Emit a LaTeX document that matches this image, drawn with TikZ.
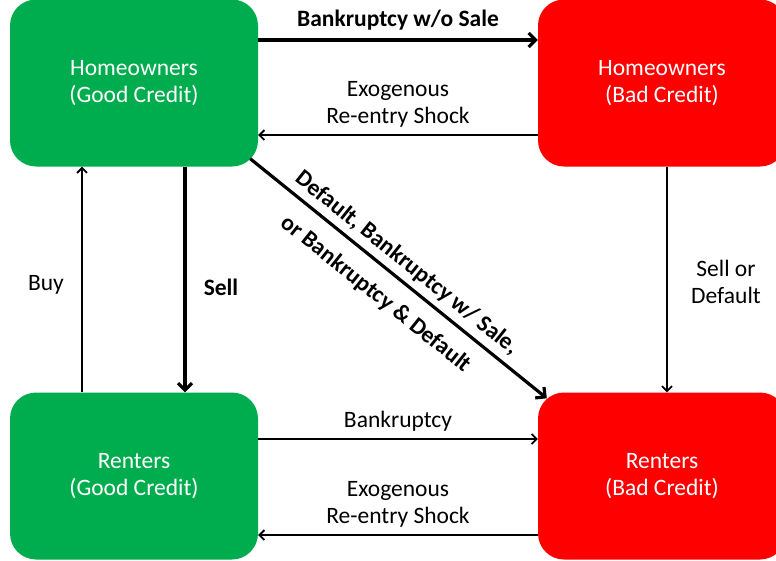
\documentclass[tikz,border=0pt]{standalone}
\usepackage{fontspec}
\setmainfont{Carlito}
\usetikzlibrary{arrows.meta}
\definecolor{boxgreen}{HTML}{00AD4E}
\definecolor{boxred}{HTML}{FF0000}
\begin{document}
\begin{tikzpicture}[x=1pt,y=-1pt,
  state/.style={rounded corners=26pt, minimum width=248pt, minimum height=167pt, inner sep=0pt, text=white, align=center, font=\fontsize{23.5}{27.5}\selectfont},
  good/.style={state, fill=boxgreen},
  bad/.style={state, fill=boxred},
  thinarrow/.style={line width=1.8pt, -{Straight Barb[length=5pt,width=10pt]}},
  thickarrow/.style={line width=3.2pt, -{Straight Barb[length=7pt,width=14pt]}},
  lbl/.style={font=\fontsize{23.5}{27.5}\selectfont, align=center, inner sep=0pt},
  blbl/.style={lbl, font=\bfseries\fontsize{23.5}{27.5}\selectfont}]
\clip (0,0) rectangle (776,560);
\node[good] (HG) at (134,83) {Homeowners\\(Good Credit)};
\node[bad] (HB) at (662,83) {Homeowners\\(Bad Credit)};
\node[good] (RG) at (134,476) {Renters\\(Good Credit)};
\node[bad] (RB) at (662,476) {Renters\\(Bad Credit)};
\draw[thickarrow] ([yshift=43pt]HG.east) -- ([yshift=43pt]HB.west);
\draw[thinarrow] ([yshift=-52pt]HB.west) -- ([yshift=-52pt]HG.east);
\draw[thinarrow] ([yshift=37pt]RG.east) -- ([yshift=37pt]RB.west);
\draw[thinarrow] ([yshift=-59pt]RB.west) -- ([yshift=-59pt]RG.east);
\draw[thickarrow] ([xshift=51pt]HG.south) -- ([xshift=51pt]RG.north);
\draw[thinarrow] ([xshift=-52pt]RG.north) -- ([xshift=-52pt]HG.south);
\draw[thinarrow] ([xshift=5pt]HB.south) -- ([xshift=5pt]RB.north);
\draw[thickarrow] ([xshift=-8pt,yshift=8pt]HG.south east) -- ([xshift=9pt,yshift=-6pt]RB.north west);
\node[blbl] (l1) at (398,20) {Bankruptcy w/o Sale};
\node[lbl] (l2) at (398,104.5) {Exogenous\\Re-entry Shock};
\node[lbl] (l3) at (398,421) {Bankruptcy};
\node[lbl] (l4) at (398,504.5) {Exogenous\\Re-entry Shock};
\node[blbl] (l5) at (221,287) {Sell};
\node[lbl] (l6) at (46,285) {Buy};
\node[lbl] (l7) at (726,282) {Sell or\\Default};
\node[blbl, rotate=-38.66] (l8) at (407,263) {Default, Bankruptcy w/ Sale,};
\node[blbl, rotate=-38.66] (l9) at (376,294) {or Bankruptcy \& Default};
\end{tikzpicture}
\end{document}
